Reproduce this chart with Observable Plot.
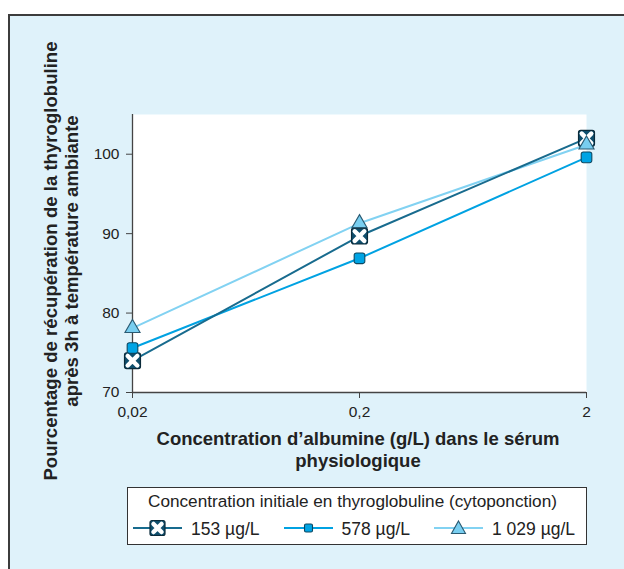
<!DOCTYPE html>
<html>
<head>
<meta charset="utf-8">
<script src="https://cdn.jsdelivr.net/npm/d3@7"></script>
<script src="https://cdn.jsdelivr.net/npm/@observablehq/plot@0.6"></script>
<style>
  html, body { margin: 0; padding: 0; background: #ffffff; }
  body { width: 624px; height: 569px; overflow: hidden; position: relative;
         font-family: "Liberation Sans", Arial, Helvetica, sans-serif; color: #222; }
  #panel { position: absolute; left: 8px; top: 14px; width: 700px; height: 620px;
           background: #dff2fa; border-left: 2px solid #3c3c3c; border-top: 2px solid #3c3c3c; }
  #chart { position: absolute; left: 0; top: 0; }
  #ytitle { position: absolute; left: 61px; top: 261px; transform: translate(-50%, -50%) rotate(-90deg);
            white-space: nowrap; text-align: center; font-weight: bold; font-size: 18.6px; line-height: 21px; }
  #xtitle { position: absolute; left: 108px; top: 428px; width: 500px; text-align: center;
            font-weight: bold; font-size: 18.5px; line-height: 22px; }
  #legend { position: absolute; left: 127px; top: 487px; width: 458px; height: 56px;
            background: #fff; border: 1.5px solid #333; }
  #legend .ttl { position: absolute; left: 20px; top: 3px; font-size: 17.2px; line-height: 20px; white-space: nowrap; }
  #legend .sw { position: absolute; top: 30px; }
  #legend .lab { position: absolute; top: 31px; font-size: 17.5px; line-height: 20px; white-space: nowrap; }
</style>
</head>
<body>
<div id="panel"></div>
<div id="chart"></div>
<div id="ytitle">Pourcentage de récupération de la thyroglobuline<br>après 3h à température ambiante</div>
<div id="xtitle">Concentration d’albumine (g/L) dans le sérum<br>physiologique</div>
<div id="legend"></div>
<script>
// ---- data ----
const albumine = [0.02, 0.2, 2];                       // g/L (log axis)
const xTickLabels = ["0,02", "0,2", "2"];
const yTicks = [70, 80, 90, 100];
const seriesNames = ["153 µg/L", "578 µg/L", "1 029 µg/L"];
const values153  = [74.0, 89.7, 102.0];
const values578  = [75.6, 86.9, 99.6];
const values1029 = [78.1, 91.3, 101.2];
const legendTitle = "Concentration initiale en thyroglobuline (cytoponction)";

// ---- styles ----
const lineColors = ["#186b8e", "#00a2e2", "#82d2f2"];
const seriesValues = [values153, values578, values1029];

const rows = [];
seriesNames.forEach((s, i) => albumine.forEach((x, j) => rows.push({x, y: seriesValues[i][j], s})));
const bySeries = s => rows.filter(d => d.s === s);

const roundSquare = {
  draw(ctx, size) {
    const w = Math.sqrt(size), h = w / 2, c = Math.min(2.2, w / 5);
    ctx.moveTo(-h + c, -h);
    ctx.lineTo(h - c, -h); ctx.arcTo(h, -h, h, -h + c, c);
    ctx.lineTo(h, h - c); ctx.arcTo(h, h, h - c, h, c);
    ctx.lineTo(-h + c, h); ctx.arcTo(-h, h, -h, h - c, c);
    ctx.lineTo(-h, -h + c); ctx.arcTo(-h, -h, -h + c, -h, c);
    ctx.closePath();
  }
};

const tickFmt = d => xTickLabels[albumine.indexOf(d)] ?? String(d).replace(".", ",");

const chart = Plot.plot({
  width: 624, height: 569,
  marginLeft: 132, marginRight: 38, marginTop: 114, marginBottom: 177,
  style: {background: "transparent", fontFamily: "'Liberation Sans', Arial, sans-serif", fontSize: "15.5px", color: "#222"},
  x: {type: "log", domain: [albumine[0], albumine[albumine.length - 1]]},
  y: {domain: [70, 105]},
  marks: [
    Plot.frame({fill: "white", stroke: "none"}),
    Plot.axisX({ticks: albumine, tickFormat: tickFmt, tickSize: 6, tickPadding: 7, label: null, stroke: "#444", fontSize: 15.5}),
    Plot.axisY({ticks: yTicks, tickSize: 6, tickPadding: 7, label: null, stroke: "#444", fontSize: 15.5}),
    Plot.ruleY([70], {stroke: "#444", strokeWidth: 1.3}),
    Plot.ruleX([albumine[0]], {stroke: "#444", strokeWidth: 1.3}),
    Plot.line(bySeries(seriesNames[2]), {x: "x", y: "y", stroke: lineColors[2], strokeWidth: 2}),
    Plot.line(bySeries(seriesNames[1]), {x: "x", y: "y", stroke: lineColors[1], strokeWidth: 2}),
    Plot.line(bySeries(seriesNames[0]), {x: "x", y: "y", stroke: lineColors[0], strokeWidth: 2}),
    Plot.dot(bySeries(seriesNames[0]), {x: "x", y: "y", symbol: roundSquare, r: 9, fill: "#0f4e6c", stroke: "#0a2a3a", strokeWidth: 1.2}),
    Plot.dot(bySeries(seriesNames[0]), {x: "x", y: "y", symbol: "times", r: 4.4, stroke: "white", strokeWidth: 4.5, strokeLinecap: "round"}),
    Plot.dot(bySeries(seriesNames[1]), {x: "x", y: "y", symbol: roundSquare, r: 6, fill: "#00a4e4", stroke: "#0c4862", strokeWidth: 1.1}),
    Plot.dot(bySeries(seriesNames[2]), {x: "x", y: "y", symbol: "triangle", r: 5.6, fill: "#78cef0", stroke: "#2a5a72", strokeWidth: 1.1})
  ]
});
document.getElementById("chart").appendChild(chart);

// ---- legend ----
const legend = document.getElementById("legend");
const ttl = document.createElement("div");
ttl.className = "ttl"; ttl.textContent = legendTitle;
legend.appendChild(ttl);
const swatchMarker = [
  `<rect x="17" y="2.5" width="15" height="15" rx="2" fill="#0f4e6c" stroke="#0a2a3a" stroke-width="1.2"/>
   <path d="M20.5 6 L28.5 14 M28.5 6 L20.5 14" stroke="white" stroke-width="4.5" stroke-linecap="round"/>`,
  `<rect x="20.5" y="6" width="8" height="8" rx="1.5" fill="#00a4e4" stroke="#0c4862" stroke-width="1.1"/>`,
  `<path d="M24.5 3 L31.5 15.5 L17.5 15.5 Z" fill="#78cef0" stroke="#2a5a72" stroke-width="1.1"/>`
];
seriesNames.forEach((name, i) => {
  const left = 5 + 150.5 * i;
  const sw = document.createElement("div");
  sw.className = "sw"; sw.style.left = left + "px";
  sw.innerHTML = `<svg width="49" height="20"><line x1="0" x2="49" y1="10" y2="10" stroke="${lineColors[i]}" stroke-width="2"/>${swatchMarker[i]}</svg>`;
  legend.appendChild(sw);
  const lab = document.createElement("div");
  lab.className = "lab"; lab.style.left = (left + 58) + "px"; lab.textContent = name;
  legend.appendChild(lab);
});
</script>
</body>
</html>
